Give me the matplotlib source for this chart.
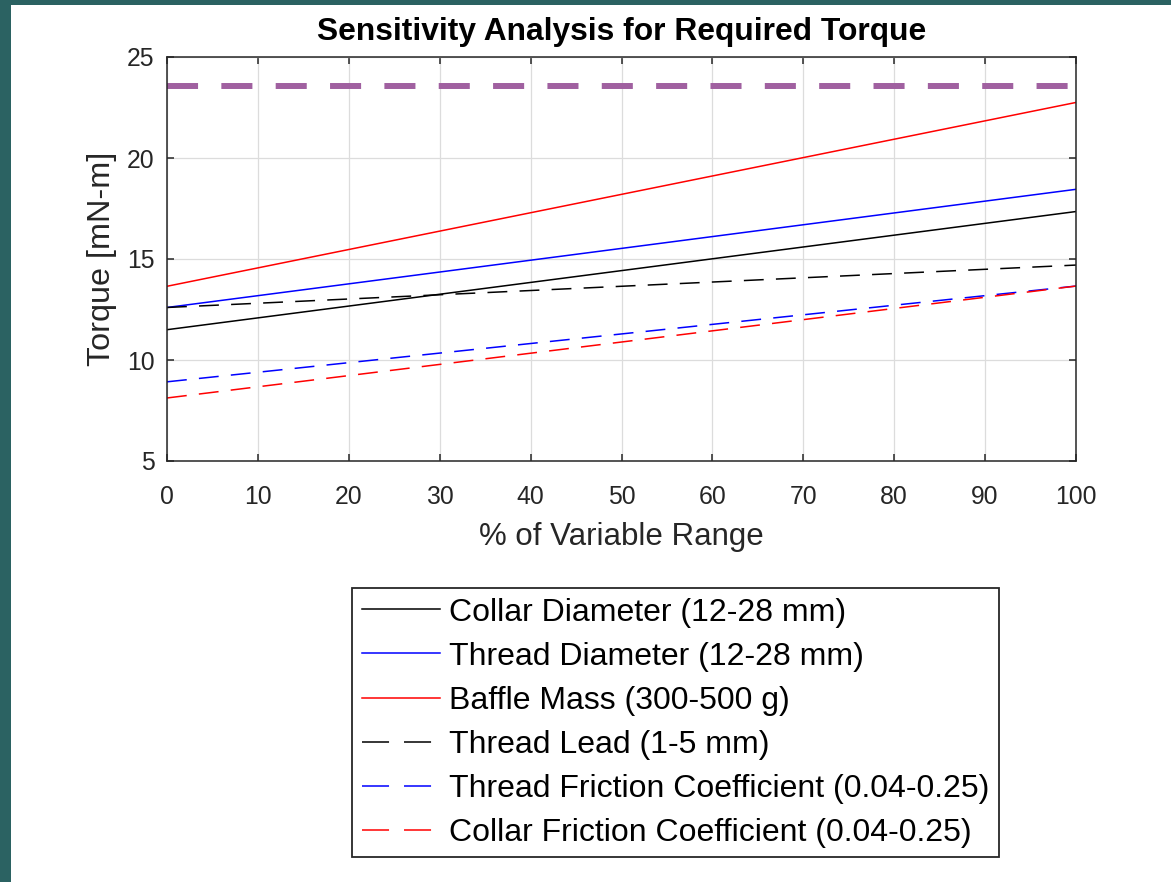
import matplotlib.pyplot as plt
from matplotlib.lines import Line2D

plt.rcParams['font.family'] = ['Liberation Sans', 'DejaVu Sans']

# % of variable range, start and end points of each (linear) curve
pct = [0, 100]
collar_diam = [11.5, 17.35]
thread_diam = [12.6, 18.45]
baffle_mass = [13.65, 22.75]
thread_lead = [12.6, 14.7]
thread_fric = [8.92, 13.66]
collar_fric = [8.12, 13.66]
limit_torque = 23.55

labels = ['Collar Diameter (12-28 mm)', 'Thread Diameter (12-28 mm)',
          'Baffle Mass (300-500 g)', 'Thread Lead (1-5 mm)',
          'Thread Friction Coefficient (0.04-0.25)',
          'Collar Friction Coefficient (0.04-0.25)']
series = [collar_diam, thread_diam, baffle_mass, thread_lead, thread_fric, collar_fric]
colors = ['black', 'blue', 'red', 'black', 'blue', 'red']
styles = ['-', '-', '-', '--', '--', '--']

fig = plt.figure(figsize=(11.71, 8.82), dpi=100)
fig.patch.set_facecolor('#2b6262')
# white panel inside the teal frame
fig.add_artist(plt.Rectangle((11 / 1171, 0), 1, 1 - 5 / 882, transform=fig.transFigure,
                             facecolor='white', edgecolor='none', zorder=0))

ax = fig.add_axes([167 / 1171, 1 - 461 / 882, (1076 - 167) / 1171, (461 - 57) / 882])

for y, c, s in zip(series, colors, styles):
    ln, = ax.plot(pct, y, color=c, lw=1.1)
    if s == '--':
        ln.set_dashes((13, 8))

ax.plot(pct, [limit_torque, limit_torque], color='#a060a0', lw=4.3, dashes=(5.2, 3.9))

ax.set_xlim(0, 100)
ax.set_ylim(5, 25)
ax.set_xticks(range(0, 101, 10))
ax.set_yticks(range(5, 26, 5))
ax.grid(True, color='#dcdcdc', lw=0.9)
ax.set_axisbelow(True)
ax.tick_params(direction='in', top=True, right=True, labelsize=17.8, colors='#262626',
               length=5, width=1.1)
ax.tick_params(axis='x', pad=17)
ax.tick_params(axis='y', pad=9)
for sp in ax.spines.values():
    sp.set_color('#262626')
    sp.set_linewidth(1.1)
ax.set_xlabel('% of Variable Range', fontsize=22.5, color='#262626', labelpad=10)
ax.set_ylabel('Torque [mN-m]', fontsize=23.3, color='#262626', labelpad=7)
ax.set_title('Sensitivity Analysis for Required Torque', fontsize=22.9,
             fontweight='bold', pad=12)

handles = []
for c, s in zip(colors, styles):
    if s == '--':
        handles.append(Line2D([], [], color=c, lw=1.1, dashes=(17.7, 9.8)))
    else:
        handles.append(Line2D([], [], color=c, lw=1.1))

leg = fig.legend(handles, labels, loc='upper left',
                 bbox_to_anchor=(352 / 1171, 1 - 588 / 882), fontsize=23,
                 handlelength=2.45, handletextpad=0.3, labelspacing=0.44,
                 borderpad=0.3, borderaxespad=0, fancybox=False, framealpha=1)
leg.get_frame().set_edgecolor('#262626')
leg.get_frame().set_linewidth(1.3)

fig.savefig('out.png', dpi=100, facecolor=fig.get_facecolor())
